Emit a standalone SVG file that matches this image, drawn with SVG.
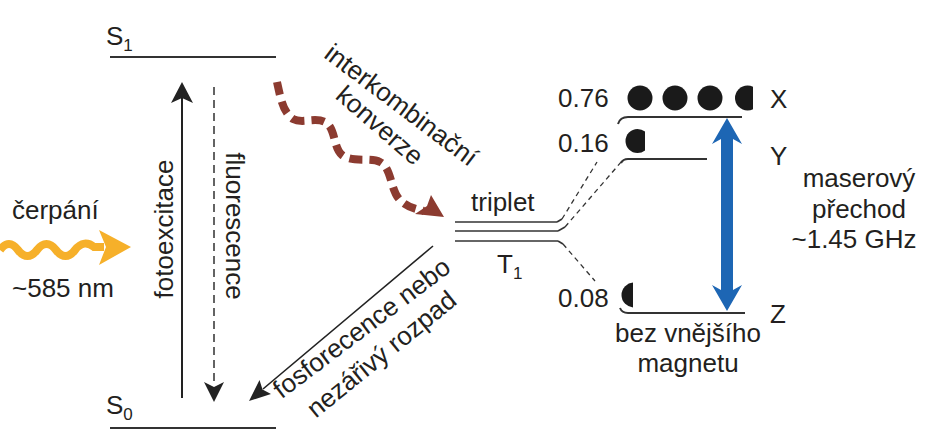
<svg xmlns="http://www.w3.org/2000/svg" width="946" height="446" viewBox="0 0 946 446">
<defs>
<style>
text{font-family:"Liberation Sans",Arial,sans-serif;fill:#231f20;font-size:26px}
.lvl{stroke:#333;stroke-width:2;fill:none}
.thin{stroke:#333;stroke-width:1.6;fill:none}
.dash{stroke:#333;stroke-width:1.3;fill:none;stroke-dasharray:5 4}
.mid{text-anchor:middle}
.dot{fill:#1a1a1a}
</style>
<clipPath id="c1"><rect x="700" y="80" width="53" height="40"/></clipPath>
<clipPath id="c2"><rect x="600" y="125" width="45" height="35"/></clipPath>
<clipPath id="c3"><rect x="600" y="280" width="33" height="32"/></clipPath>
</defs>
<rect width="946" height="446" fill="#fff"/>

<g id="S1">
<line class="lvl" x1="110" y1="57" x2="276" y2="57"/>
<text x="106" y="45" font-size="24">S<tspan font-size="17" dy="6">1</tspan></text>
</g>
<g id="S0">
<line class="lvl" x1="110" y1="428" x2="276" y2="428"/>
<text x="106" y="414" font-size="24">S<tspan font-size="17" dy="6">0</tspan></text>
</g>
<g id="T1">
<line class="thin" x1="455" y1="222" x2="557" y2="222"/>
<line class="thin" x1="455" y1="231" x2="558" y2="231"/>
<line class="thin" x1="455" y1="241" x2="558" y2="241"/>
<text x="471" y="211">triplet</text>
<text x="497" y="273">T<tspan font-size="17" dy="6">1</tspan></text>
</g>
<g id="X">
<path class="lvl" d="M618,124 Q620,117 628,117 L742,117"/>
<circle class="dot" cx="640" cy="98" r="12.5"/>
<circle class="dot" cx="675" cy="98" r="12.5"/>
<circle class="dot" cx="710" cy="98" r="12.5"/>
<circle class="dot" cx="747.5" cy="98" r="12.5" clip-path="url(#c1)"/>
<text x="558" y="107">0.76</text>
<text x="770" y="108">X</text>
</g>
<g id="Y">
<path class="lvl" d="M621,163 Q623,159 628,159 L707,159"/>
<circle class="dot" cx="637.5" cy="141" r="12" clip-path="url(#c2)"/>
<text x="558" y="152">0.16</text>
<text x="770" y="165">Y</text>
</g>
<g id="Z">
<path class="lvl" d="M620,308 Q622,313 628,313 L745,313"/>
<circle class="dot" cx="634" cy="295" r="12.5" clip-path="url(#c3)"/>
<text x="558" y="307">0.08</text>
<text x="770" y="323">Z</text>
</g>
<g id="pump">
<path d="M0,250 C6,242 12,242 18,250 C24,258 31,258 37,250 C43,242 50,242 56,250 C62,258 69,258 75,250 C81,242 88,242 94,247 L104,247" fill="none" stroke="#f6b02a" stroke-width="8"/>
<polygon points="131,247 99,230 106,247 99,265" fill="#f6b02a"/>
<text x="12" y="219">čerpání</text>
<text x="12" y="297">~585 nm</text>
</g>
<g id="labels">
<text class="mid" transform="translate(173,229) rotate(-90)">fotoexcitace</text>
<text class="mid" transform="translate(226,226) rotate(90)">fluorescence</text>
<text class="mid" transform="translate(396,112) rotate(37)">interkombinační</text>
<text class="mid" transform="translate(374,132) rotate(41)">konverze</text>
<text class="mid" transform="translate(367,335) rotate(-37)">fosforecence nebo</text>
<text class="mid" transform="translate(387,361) rotate(-39)">nezářivý rozpad</text>
<text class="mid" x="859" y="187">maserový</text>
<text class="mid" x="859" y="218">přechod</text>
<text class="mid" x="854" y="248">~1.45 GHz</text>
<text class="mid" x="688" y="342">bez vnějšího</text>
<text class="mid" x="688" y="372">magnetu</text>
</g>
<g id="connectors">
<line x1="182" y1="398" x2="182" y2="98" stroke="#222" stroke-width="2"/>
<polygon points="182,82 193,103 182,98 171,103" fill="#222"/>
<line x1="214" y1="87" x2="214" y2="386" stroke="#222" stroke-width="1.4" stroke-dasharray="8 5"/>
<polygon points="214,402 224,382 214,387 204,382" fill="#222"/>
<line x1="433" y1="246" x2="263" y2="389" stroke="#222" stroke-width="1.6"/>
<polygon points="249,401 259.5,380 262.5,389.5 271,394" fill="#222"/>
<path d="M277,82 C281,100 283,112 293,119 C302,124 315,117 325,122 C336,128 333,148 342,155 C352,163 370,157 380,162 C392,168 390,190 400,200 C407,207 415,209 424,211" fill="none" stroke="#8c3b30" stroke-width="8" stroke-dasharray="13 7"/>
<polygon points="444,217 431,195 427,206 415,214" fill="#8c3b30"/>
<path class="thin" d="M557,222 L562,219"/>
<path class="thin" d="M558,231 L565,227"/>
<path class="thin" d="M558,241 L563,244"/>
<line class="dash" x1="562" y1="219" x2="597" y2="162"/>
<line class="dash" x1="565" y1="227" x2="622" y2="161"/>
<line class="dash" x1="563" y1="244" x2="595" y2="281"/>
<path d="M727,118 L742,144 L733,139 L733,290 L742,285 L727,311 L712,285 L721,290 L721,139 L712,144 Z" fill="#1d66b4"/>
</g>
</svg>
